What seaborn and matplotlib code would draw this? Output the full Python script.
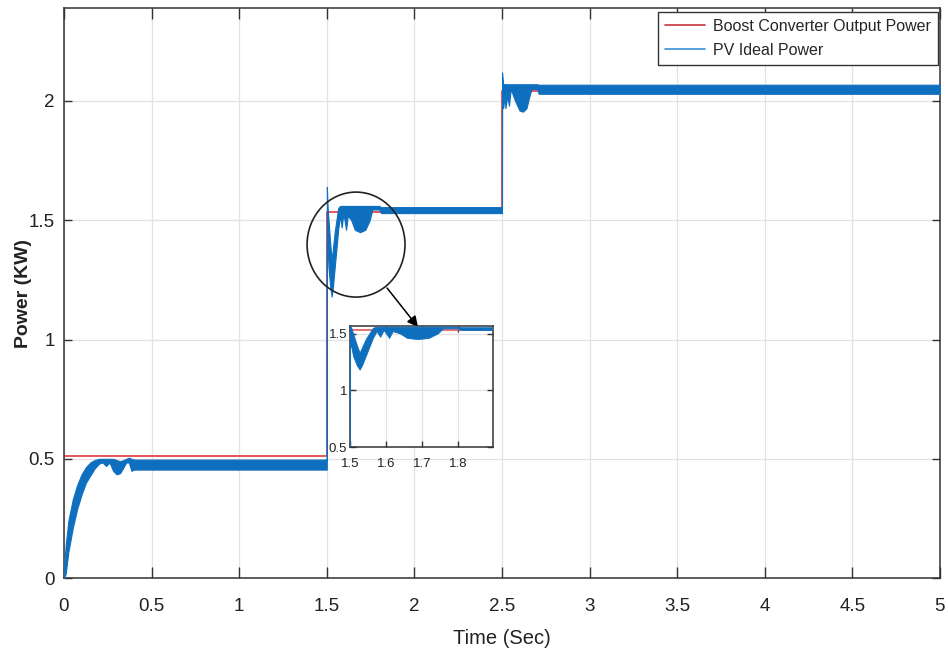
import matplotlib
matplotlib.use("Agg")
import matplotlib.pyplot as plt
import pandas as pd
import seaborn as sns
from matplotlib.patches import Ellipse
from matplotlib.lines import Line2D

# Boost converter output power (kW), stepwise reference
boost_time = [0.0, 1.5, 1.5, 2.5, 2.5, 5.0]
boost_power = [0.51, 0.51, 1.535, 1.535, 2.043, 2.043]

# PV power (kW): ripple envelope, lower and upper bound of the switching ripple
pv_time = [0.0, 0.01, 0.025, 0.05, 0.075, 0.1, 0.125, 0.15, 0.175, 0.2,
           0.22, 0.24, 0.26, 0.28, 0.3, 0.32, 0.34, 0.355, 0.37, 0.385, 0.4, 1.5,
           1.5005, 1.505, 1.51, 1.52, 1.528, 1.535, 1.545, 1.555, 1.565, 1.575,
           1.585, 1.595, 1.61, 1.62, 1.64, 1.66, 1.69, 1.72, 1.745, 1.76, 1.8,
           1.81, 2.5,
           2.5005, 2.507, 2.515, 2.52, 2.53, 2.54, 2.55, 2.575, 2.6, 2.62, 2.64,
           2.66, 2.67, 2.7, 2.71, 5.0]
pv_low = [0.0, 0.02, 0.11, 0.21, 0.29, 0.35, 0.40, 0.43, 0.46, 0.48,
          0.485, 0.47, 0.485, 0.45, 0.435, 0.44, 0.465, 0.485, 0.485, 0.45, 0.455, 0.455,
          1.40, 1.38, 1.30, 1.22, 1.18, 1.22, 1.30, 1.38, 1.46, 1.52,
          1.47, 1.53, 1.46, 1.52, 1.50, 1.46, 1.45, 1.46, 1.50, 1.545, 1.545,
          1.53, 1.53,
          1.98, 1.97, 2.02, 1.97, 2.02, 1.98, 2.05, 2.00, 1.96, 1.955, 1.97,
          2.03, 2.05, 2.05, 2.03, 2.03]
pv_high = [0.04, 0.14, 0.24, 0.33, 0.39, 0.435, 0.465, 0.485, 0.495, 0.50,
           0.50, 0.50, 0.50, 0.50, 0.495, 0.49, 0.495, 0.50, 0.505, 0.50, 0.497, 0.497,
           1.64, 1.55, 1.50, 1.40, 1.33, 1.38, 1.45, 1.50, 1.55, 1.56,
           1.56, 1.56, 1.56, 1.56, 1.56, 1.56, 1.56, 1.56, 1.56, 1.56, 1.56,
           1.555, 1.555,
           2.12, 2.07, 2.07, 2.07, 2.07, 2.07, 2.07, 2.07, 2.07, 2.07, 2.07,
           2.07, 2.07, 2.07, 2.068, 2.068]

x_ticks = [0, 0.5, 1, 1.5, 2, 2.5, 3, 3.5, 4, 4.5, 5]
x_tick_labels = ["0", "0.5", "1", "1.5", "2", "2.5", "3", "3.5", "4", "4.5", "5"]
y_ticks = [0, 0.5, 1, 1.5, 2]
y_tick_labels = ["0", "0.5", "1", "1.5", "2"]
inset_x_ticks = [1.5, 1.6, 1.7, 1.8]
inset_x_labels = ["1.5", "1.6", "1.7", "1.8"]
inset_y_ticks = [0.5, 1, 1.5]
inset_y_labels = ["0.5", "1", "1.5"]

series_labels = ["Boost Converter Output Power", "PV Ideal Power"]

RED = "#e5484d"
BLUE = "#0f6fbf"
GRID = "#e2e2e2"
EDGE = "#333333"

sns.set_style("ticks")
plt.rcParams["font.family"] = ["Liberation Sans", "DejaVu Sans"]

boost_df = pd.DataFrame({"time": boost_time, "power": boost_power})
pv_df = pd.DataFrame({"time": pv_time, "low": pv_low, "high": pv_high})

fig = plt.figure(figsize=(9.48, 6.57), dpi=100)
ax = fig.add_axes([0.0675, 0.120, 0.924, 0.868])


def draw_traces(axis, lw_ref, lw_edge):
    sns.lineplot(data=boost_df, x="time", y="power", ax=axis, color=RED,
                 lw=lw_ref, sort=False, estimator=None, legend=False, zorder=2)
    axis.fill_between(pv_df["time"], pv_df["low"], pv_df["high"],
                      facecolor=BLUE, edgecolor=BLUE, lw=lw_edge, zorder=3)


def style_box(axis, tick_len_x, tick_len_y, label_size, xpad, ypad):
    axis.set_facecolor("white")
    axis.grid(True, color=GRID, lw=0.9, zorder=0)
    axis.set_axisbelow(True)
    for sp in axis.spines.values():
        sp.set_visible(True)
        sp.set_color(EDGE)
        sp.set_linewidth(1.1)
    axis.tick_params(axis="x", direction="in", length=tick_len_x, width=1.0,
                     color=EDGE, top=True, bottom=True, labelsize=label_size,
                     pad=xpad, labelcolor="#222222")
    axis.tick_params(axis="y", direction="in", length=tick_len_y, width=1.0,
                     color=EDGE, left=True, right=True, labelsize=label_size,
                     pad=ypad, labelcolor="#222222")


draw_traces(ax, 1.3, 0.8)
ax.set_xlim(0, 5)
ax.set_ylim(0, 2.39)
ax.set_xticks(x_ticks)
ax.set_xticklabels(x_tick_labels)
ax.set_yticks(y_ticks)
ax.set_yticklabels(y_tick_labels)
style_box(ax, 8, 6, 13.5, 14, 6.5)
ax.set_xlabel("Time (Sec)", fontsize=14.5, color="#222222")
ax.xaxis.set_label_coords(0.5, -0.089)
ax.set_ylabel("Power (KW)", fontsize=14, color="#222222", fontweight="bold")
ax.yaxis.set_label_coords(-0.036, 0.5)

# zoom marker around the transient at 1.5 s
ax.add_patch(Ellipse((1.667, 1.398), 0.559, 0.44, fill=False,
                     edgecolor="#222222", lw=1.2, zorder=5))
ax.annotate("", xy=(2.021, 1.052), xytext=(1.844, 1.216),
            arrowprops=dict(arrowstyle="-|>", color="black", lw=1.1,
                            mutation_scale=16, shrinkA=0, shrinkB=0),
            zorder=6)

handles = [Line2D([], [], color="#c8343c", lw=1.2),
           Line2D([], [], color="#3c8fd0", lw=1.2)]
leg = ax.legend(handles, series_labels, loc="upper right",
                bbox_to_anchor=(0.998, 0.993), borderaxespad=0,
                fontsize=11.5, frameon=True, fancybox=False, framealpha=1,
                edgecolor=EDGE, handlelength=2.5, handletextpad=0.5,
                labelspacing=0.55, borderpad=0.45)
leg.get_frame().set_linewidth(1.0)
leg.set_zorder(10)

# inset: detail of the 1.5 s transient
axin = fig.add_axes([0.3692, 0.3196, 0.1508, 0.1842])
axin.set_zorder(8)
draw_traces(axin, 1.1, 0.6)
axin.set_xlim(1.5, 1.897)
axin.set_ylim(0.5, 1.57)
axin.set_xticks(inset_x_ticks)
axin.set_xticklabels(inset_x_labels)
axin.set_yticks(inset_y_ticks)
axin.set_yticklabels(inset_y_labels)
style_box(axin, 4, 4, 9.5, 8, 2)
axin.set_xlabel("")
axin.set_ylabel("")

fig.savefig("out.png", dpi=100, facecolor="white")
